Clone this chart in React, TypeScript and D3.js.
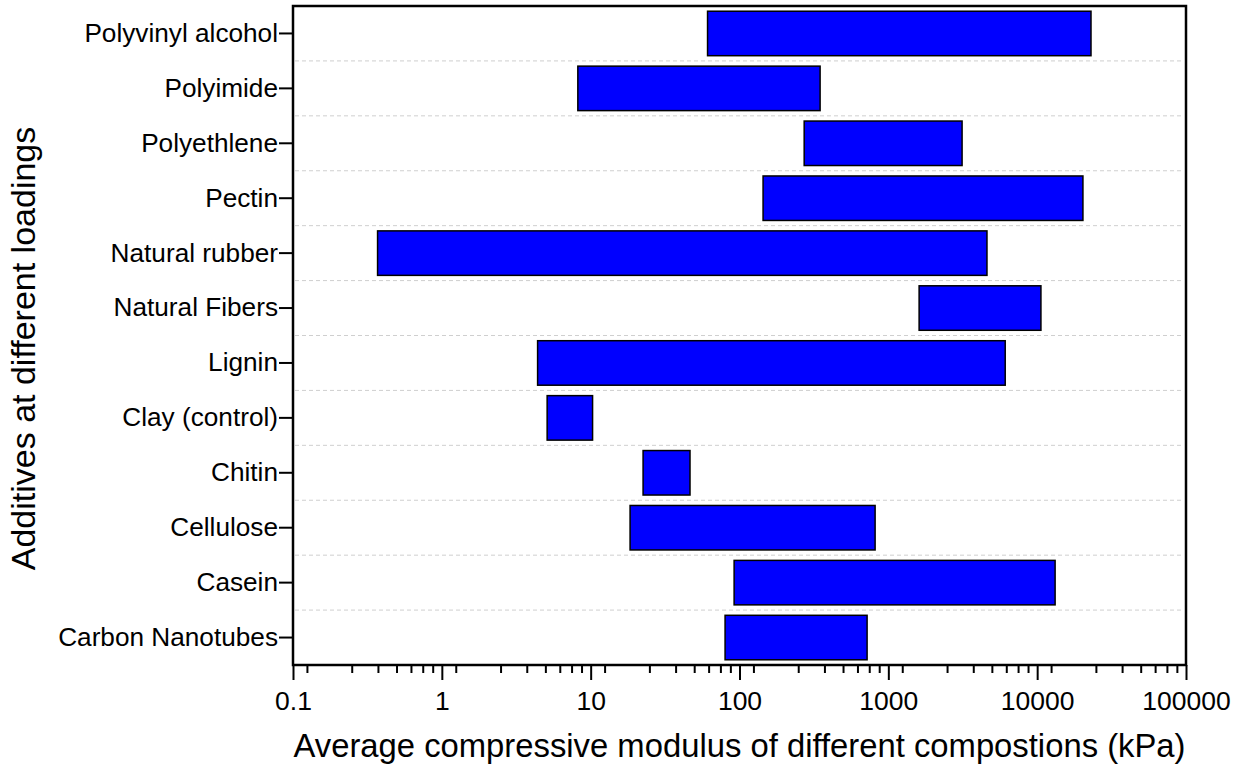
import React, { useEffect, useRef } from "react";
import * as d3 from "d3";

const categories = [
  "Polyvinyl alcohol",
  "Polyimide",
  "Polyethlene",
  "Pectin",
  "Natural rubber",
  "Natural Fibers",
  "Lignin",
  "Clay (control)",
  "Chitin",
  "Cellulose",
  "Casein",
  "Carbon Nanotubes",
];
const lowValues = [61, 8.2, 272, 144, 0.37, 1610, 4.4, 5.1, 22.5, 18.4, 92, 80];
const highValues = [23000, 348, 3130, 20300, 4600, 10600, 6100, 10.3, 46.5, 815, 13200, 720];

const xTickValues = [0.1, 1, 10, 100, 1000, 10000, 100000];
const xTickLabels = ["0.1", "1", "10", "100", "1000", "10000", "100000"];

const xTitle = "Average compressive modulus of different compostions (kPa)";
const yTitle = "Additives at different loadings";

const W = 1242;
const H = 770;
const left = 293;
const right = 1186;
const top = 6;
const bottom = 665;
const font = "Arial, 'Liberation Sans', sans-serif";

function App() {
  const svgRef = useRef<SVGSVGElement>(null);

  useEffect(() => {
    const svg = d3.select(svgRef.current);
    svg.selectAll("*").remove();

    const x = d3.scaleLog().domain([0.1, 100000]).range([left, right]);
    const y = d3
      .scaleBand<string>()
      .domain(categories)
      .range([top, bottom])
      .paddingInner(0.19)
      .paddingOuter(0.095);
    const step = y.step();

    // dashed separators between categories
    svg
      .append("g")
      .selectAll("line")
      .data(d3.range(1, categories.length))
      .join("line")
      .attr("x1", left + 2)
      .attr("x2", right - 3)
      .attr("y1", (k) => top + k * step)
      .attr("y2", (k) => top + k * step)
      .attr("stroke", "#cfcfcf")
      .attr("stroke-width", 1)
      .attr("stroke-dasharray", "4,3");

    // bars
    svg
      .append("g")
      .selectAll("rect")
      .data(categories)
      .join("rect")
      .attr("x", (d, i) => x(lowValues[i]))
      .attr("width", (d, i) => x(highValues[i]) - x(lowValues[i]))
      .attr("y", (d) => y(d)!)
      .attr("height", y.bandwidth())
      .attr("fill", "#0000ff")
      .attr("stroke", "#000")
      .attr("stroke-width", 1.5);

    // minor ticks (Origin style, 7 per decade)
    const minor: number[] = [];
    for (let dec = 0.1; dec < 100000; dec *= 10) {
      for (let k = 1; k <= 7; k++) minor.push(dec * 1.25 * k);
    }
    svg
      .append("g")
      .selectAll("line")
      .data(minor)
      .join("line")
      .attr("x1", (d) => x(d))
      .attr("x2", (d) => x(d))
      .attr("y1", bottom)
      .attr("y2", bottom + 8)
      .attr("stroke", "#000")
      .attr("stroke-width", 2);

    // x axis
    const xAxis = svg
      .append("g")
      .attr("transform", `translate(0,${bottom})`)
      .call(
        d3
          .axisBottom(x)
          .tickValues(xTickValues)
          .tickFormat((d, i) => xTickLabels[i])
          .tickSize(15)
          .tickPadding(11)
      );
    xAxis.select(".domain").remove();
    xAxis.selectAll(".tick line").attr("stroke-width", 2);
    xAxis
      .selectAll(".tick text")
      .attr("font-size", 26.5)
      .attr("font-family", font)
      .attr("fill", "#000");

    // y axis
    const yAxis = svg
      .append("g")
      .attr("transform", `translate(${left},0)`)
      .call(d3.axisLeft(y).tickSize(14).tickPadding(1));
    yAxis.select(".domain").remove();
    yAxis.selectAll(".tick line").attr("stroke-width", 2);
    yAxis
      .selectAll(".tick text")
      .attr("font-size", 26.2)
      .attr("font-family", font)
      .attr("fill", "#000");

    // frame
    svg
      .append("rect")
      .attr("x", left)
      .attr("y", top)
      .attr("width", right - left)
      .attr("height", bottom - top)
      .attr("fill", "none")
      .attr("stroke", "#000")
      .attr("stroke-width", 2.5);

    // titles
    svg
      .append("text")
      .attr("x", (left + right) / 2)
      .attr("y", 757)
      .attr("text-anchor", "middle")
      .attr("font-size", 32.8)
      .attr("font-family", font)
      .text(xTitle);

    svg
      .append("text")
      .attr("transform", `translate(35,${(top + bottom) / 2 + 13}) rotate(-90)`)
      .attr("text-anchor", "middle")
      .attr("font-size", 34)
      .attr("font-family", font)
      .text(yTitle);
  }, []);

  return (
    <div style={{ position: "absolute", left: 0, top: 0 }}>
      <svg ref={svgRef} width={W} height={H} style={{ display: "block", background: "#fff" }}></svg>
    </div>
  );
}

export default App;
